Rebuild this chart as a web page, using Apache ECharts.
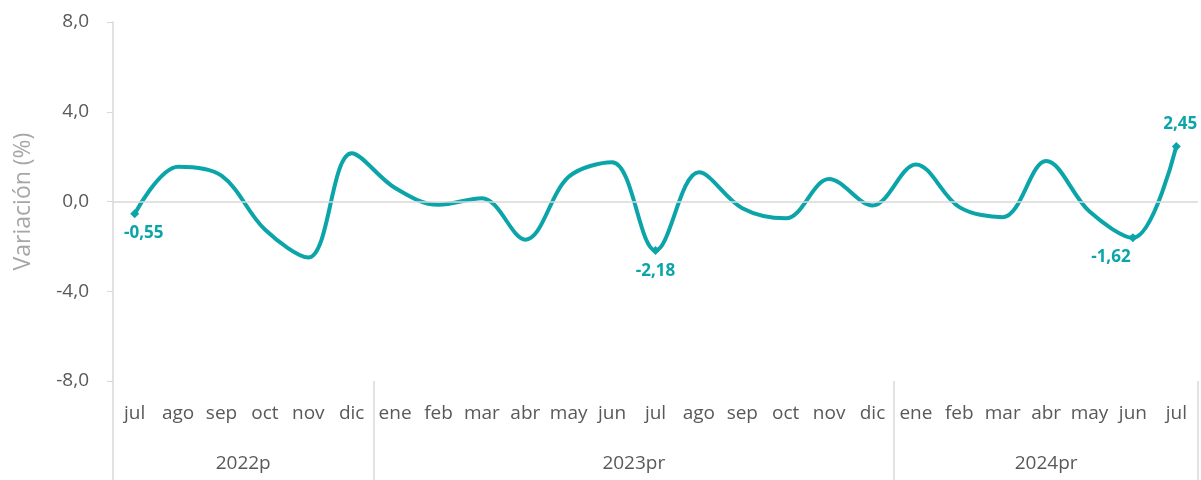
<!DOCTYPE html>
<html>
<head>
<meta charset="utf-8">
<script src="https://cdn.jsdelivr.net/npm/echarts@6/dist/echarts.min.js"></script>
<style>
  html, body { margin: 0; padding: 0; background: #fff; }
  #chart { width: 1201px; height: 480px; }
</style>
</head>
<body>
<div id="chart"></div>
<script>
// meses
var months = ['jul','ago','sep','oct','nov','dic',
  'ene','feb','mar','abr','may','jun','jul','ago','sep','oct','nov','dic',
  'ene','feb','mar','abr','may','jun','jul'];
// variacion (%)
var values = [-0.55, 1.55, 1.15, -1.25, -2.5, 2.15,
  0.6, -0.15, 0.15, -1.7, 1.1, 1.75, -2.18, 1.3, -0.3, -0.75, 1.0, -0.18,
  1.65, -0.25, -0.7, 1.8, -0.45, -1.62, 2.45];
// años y cantidad de meses
var yearLabels = ['2022p', '2023pr', '2024pr'];
var yearSpans = [6, 12, 7];
// puntos con etiqueta
var labeledIdx = [0, 12, 23, 24];

var teal = '#0BA5A9';
var font = 'Open Sans';

function fmt(v, dec) {
  return v.toFixed(dec).replace('.', ',');
}

// eje de años: medio paso por mes, sin boundaryGap
var halfCats = [];
var yearTickIdx = [0];
var pos = 0;
for (var i = 0; i <= months.length * 2; i++) halfCats.push('');
for (var k = 0; k < yearLabels.length; k++) {
  halfCats[pos + yearSpans[k]] = yearLabels[k];
  pos += yearSpans[k] * 2;
  yearTickIdx.push(pos);
}

var labelOffsets = { 0: [9, 0], 12: [0, 2], 23: [-22, 0], 24: [4, 0] };

var seriesData = values.map(function (v, i) {
  if (labeledIdx.indexOf(i) < 0) return { value: v, symbol: 'none' };
  return {
    value: v,
    symbol: 'diamond',
    symbolSize: 9,
    label: {
      show: true,
      position: v < 0 ? 'bottom' : 'top',
      distance: v < 0 ? 6 : 9,
      offset: labelOffsets[i],
      formatter: fmt(v, 2),
      color: teal,
      fontFamily: font,
      fontWeight: 'bold',
      fontSize: 17
    }
  };
});

var chart = echarts.init(document.getElementById('chart'));
var option = {
  animation: false,
  grid: { left: 113, right: 0, top: 22, bottom: 99 },
  xAxis: [
    {
      type: 'category',
      data: months,
      position: 'bottom',
      axisLine: { show: false },
      axisTick: { show: false },
      axisLabel: {
        interval: 0,
        margin: 23,
        color: '#595959',
        fontFamily: font,
        fontSize: 19
      }
    },
    {
      type: 'category',
      data: halfCats,
      boundaryGap: false,
      position: 'bottom',
      axisLine: { show: false },
      axisTick: {
        show: true,
        length: 99,
        interval: function (idx) { return yearTickIdx.indexOf(idx) >= 0; },
        lineStyle: { color: '#d9d9d9', width: 1.5 }
      },
      axisLabel: {
        interval: 0,
        margin: 73,
        color: '#595959',
        fontFamily: font,
        fontSize: 19
      }
    }
  ],
  yAxis: {
    type: 'value',
    min: -8,
    max: 8,
    interval: 4,
    name: 'Variación (%)',
    nameLocation: 'middle',
    nameGap: 78,
    nameTextStyle: { color: '#a6a6a6', fontFamily: font, fontSize: 23 },
    axisLine: { show: true, lineStyle: { color: '#d9d9d9', width: 1.5 } },
    axisTick: { show: true, length: 6, lineStyle: { color: '#d9d9d9' } },
    splitLine: { show: false },
    axisLabel: {
      margin: 24,
      color: '#595959',
      fontFamily: font,
      fontSize: 19,
      formatter: function (v) { return fmt(v, 1); }
    }
  },
  series: [
    {
      type: 'line',
      xAxisIndex: 0,
      data: seriesData,
      smooth: 0.35,
      showSymbol: true,
      showAllSymbol: true,
      lineStyle: { color: teal, width: 4 },
      itemStyle: { color: teal },
      markLine: {
        silent: true,
        symbol: 'none',
        label: { show: false },
        lineStyle: { color: '#d9d9d9', width: 1.5, type: 'solid' },
        data: [{ yAxis: 0 }]
      },
      z: 3
    }
  ]
};
chart.setOption(option);
</script>
</body>
</html>
